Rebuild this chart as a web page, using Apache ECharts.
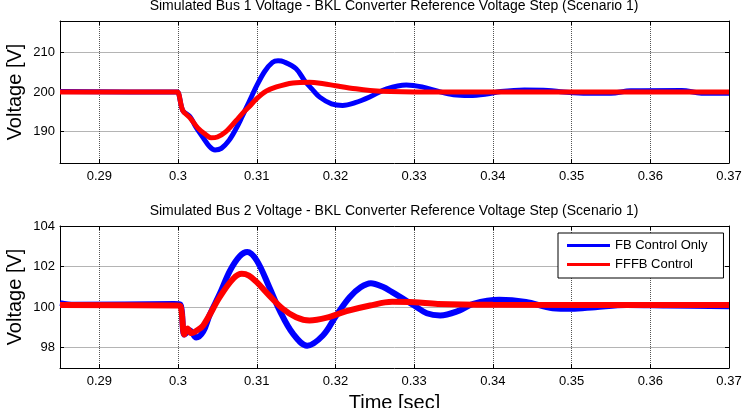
<!DOCTYPE html>
<html>
<head>
<meta charset="utf-8">
<script src="https://cdn.jsdelivr.net/npm/echarts@6/dist/echarts.min.js"></script>
<style>
html, body { margin: 0; padding: 0; background: #fff; }
#main { width: 744px; height: 408px; }
</style>
</head>
<body>
<div id="main"></div>
<script>
// tick positions
var timeTicks = [0.29, 0.3, 0.31, 0.32, 0.33, 0.34, 0.35, 0.36, 0.37];
var bus1Ticks = [190, 200, 210];
var bus2Ticks = [98, 100, 102, 104];

var seriesNames = ['FB Control Only', 'FFFB Control'];
var titles = [
    'Simulated Bus 1 Voltage - BKL Converter Reference Voltage Step (Scenario 1)',
    'Simulated Bus 2 Voltage - BKL Converter Reference Voltage Step (Scenario 1)'
];

// bus 1, feedback only (blue)
var bus1FBTime = [0.285, 0.2995, 0.2999, 0.3006, 0.3015, 0.3023, 0.3032, 0.3040, 0.3047, 0.3055,
    0.3065, 0.3074, 0.3081, 0.3090, 0.3100, 0.3110, 0.3120, 0.3127, 0.3135, 0.3150,
    0.3161, 0.3170, 0.3180, 0.3195, 0.3209, 0.3225, 0.3244, 0.3265, 0.3290, 0.3310,
    0.3330, 0.3350, 0.3370, 0.3390, 0.3410, 0.3440, 0.3470, 0.3490, 0.3520, 0.3550,
    0.3575, 0.3640, 0.3665, 0.3700];
var bus1FBVolt = [200.1, 200.0, 200.0, 195.3, 193.8, 191.0, 188.4, 186.2, 185.3, 185.7,
    187.8, 190.8, 193.6, 197.4, 201.6, 205.2, 207.5, 207.9, 207.6, 205.9,
    202.8, 200.8, 198.7, 197.0, 196.6, 197.3, 198.8, 200.8, 201.8, 201.3,
    200.2, 199.3, 199.1, 199.4, 200.1, 200.5, 200.4, 200.0, 199.7, 199.7,
    200.3, 200.4, 199.7, 199.7];

// bus 1, feedforward + feedback (red)
var bus1FFFBTime = [0.285, 0.2995, 0.2999, 0.3006, 0.3015, 0.3025, 0.3035, 0.3042, 0.3050, 0.3060,
    0.3074, 0.3081, 0.3090, 0.3100, 0.3112, 0.3125, 0.3146, 0.3167, 0.3185, 0.3200,
    0.3226, 0.3244, 0.3270, 0.3300, 0.3700];
var bus1FFFBVolt = [200.0, 200.0, 200.0, 195.3, 193.5, 190.9, 189.2, 188.4, 188.6, 189.8,
    192.8, 194.4, 196.2, 198.3, 200.2, 201.3, 202.3, 202.5, 202.1, 201.6,
    200.8, 200.4, 200.1, 200.0, 200.0];

// bus 2, feedback only (blue)
var bus2FBTime = [0.285, 0.2868, 0.2995, 0.3003, 0.3008, 0.3015, 0.3023, 0.3032, 0.3040, 0.3053,
    0.3066, 0.3078, 0.3088, 0.3100, 0.3116, 0.3129, 0.3146, 0.3164, 0.3184, 0.3201,
    0.3218, 0.3232, 0.3245, 0.3260, 0.3272, 0.3300, 0.3316, 0.3333, 0.3358, 0.3375,
    0.3408, 0.3442, 0.3476, 0.3500, 0.3530, 0.3570, 0.3620, 0.3700];
var bus2FBVolt = [100.2, 100.12, 100.15, 100.12, 98.65, 98.85, 98.5, 98.8, 99.6, 100.66,
    101.8, 102.5, 102.72, 102.3, 100.98, 99.84, 98.69, 98.1, 98.6, 99.59,
    100.49, 100.98, 101.18, 101.0, 100.74, 100.08, 99.7, 99.59, 99.84, 100.16,
    100.36, 100.25, 99.95, 99.92, 100.0, 100.1, 100.08, 100.05];

// bus 2, feedforward + feedback (red)
var bus2FFFBTime = [0.285, 0.2998, 0.3003, 0.3008, 0.3012, 0.3017, 0.3022, 0.3032, 0.3053, 0.3070,
    0.3081, 0.3090, 0.3100, 0.3116, 0.3133, 0.3150, 0.3167, 0.3189, 0.3214, 0.3244,
    0.3272, 0.3300, 0.3330, 0.3400, 0.3700];
var bus2FFFBVolt = [100.1, 100.08, 100.05, 98.65, 98.95, 98.72, 98.8, 99.1, 100.5, 101.4,
    101.64, 101.55, 101.23, 100.57, 99.92, 99.5, 99.34, 99.48, 99.8, 100.08,
    100.26, 100.24, 100.16, 100.12, 100.1];

var font = '"Liberation Sans", Arial, sans-serif';
var chart = echarts.init(document.getElementById('main'));

var pairs = (xs, ys) => xs.map((x, i) => [x, ys[i]]);

var xAxisFor = (grid, pos, labels, name) => ({
    type: 'value', gridIndex: grid, position: pos, min: 0.285, max: 0.37,
    name: name || '', nameLocation: 'middle', nameGap: 25,
    nameTextStyle: { fontSize: 20, fontFamily: font, color: '#000' },
    axisLine: { show: true, onZero: false, lineStyle: { color: '#000', width: 1 } },
    axisTick: { show: true, inside: true, length: 4, customValues: timeTicks, lineStyle: { color: '#000' } },
    axisLabel: { show: labels, customValues: timeTicks, margin: 7, fontSize: 13, color: '#000', fontFamily: font },
    splitLine: { show: labels, lineStyle: { type: 'dotted', color: '#555' } }
});

var yAxisFor = (grid, pos, min, max, ticks, labels) => ({
    type: 'value', gridIndex: grid, position: pos, min: min, max: max,
    axisLine: { show: true, onZero: false, lineStyle: { color: '#000', width: 1 } },
    axisTick: { show: true, inside: true, length: 4, customValues: ticks, lineStyle: { color: '#000' } },
    axisLabel: { show: labels, customValues: ticks, margin: 5, fontSize: 13, color: '#000', fontFamily: font },
    splitLine: { show: labels, lineStyle: { type: 'solid', color: '#b4b4b4' } }
});

var lineSeries = (name, xi, yi, data, color, width) => ({
    name: name, type: 'line', xAxisIndex: xi, yAxisIndex: yi,
    data: data, smooth: 0.35, symbol: 'none', showSymbol: false,
    lineStyle: { color: color, width: width }, itemStyle: { color: color },
    clip: true
});

// plot titles and the rotated y-axis names
var titleTexts = titles.map((t, i) => ({
    type: 'text', x: 394, y: i === 0 ? 6 : 211,
    style: { text: t, font: '14px ' + font, fill: '#000', align: 'center', verticalAlign: 'middle' }
}));
var yNames = [92, 297].map(cy => ({
    type: 'text', x: 15, y: cy, rotation: Math.PI / 2,
    style: { text: 'Voltage [V]', font: '20px ' + font, fill: '#000', align: 'center', verticalAlign: 'middle' }
}));

var option = {
    animation: false,
    backgroundColor: '#fff',
    grid: [
        { left: 60, top: 21, width: 669, height: 142, outerBoundsMode: 'none', containLabel: false },
        { left: 60, top: 226, width: 669, height: 142, outerBoundsMode: 'none', containLabel: false }
    ],
    xAxis: [
        xAxisFor(0, 'bottom', true),
        xAxisFor(0, 'top', false),
        xAxisFor(1, 'bottom', true, 'Time [sec]'),
        xAxisFor(1, 'top', false)
    ],
    yAxis: [
        yAxisFor(0, 'left', 182, 218, bus1Ticks, true),
        yAxisFor(0, 'right', 182, 218, bus1Ticks, false),
        yAxisFor(1, 'left', 97, 104, bus2Ticks, true),
        yAxisFor(1, 'right', 97, 104, bus2Ticks, false)
    ],
    legend: {
        data: seriesNames, orient: 'vertical', left: 558, top: 233,
        icon: 'rect', itemWidth: 43, itemHeight: 3, itemGap: 6,
        padding: [6, 16, 7, 9], borderColor: '#000', borderWidth: 1,
        backgroundColor: '#fff',
        textStyle: { fontSize: 13, fontFamily: font, color: '#000' }
    },
    graphic: titleTexts.concat(yNames),
    series: [
        lineSeries(seriesNames[0], 0, 0, pairs(bus1FBTime, bus1FBVolt), '#0000ff', 5),
        lineSeries(seriesNames[1], 0, 0, pairs(bus1FFFBTime, bus1FFFBVolt), '#ff0000', 5),
        lineSeries(seriesNames[0], 2, 2, pairs(bus2FBTime, bus2FBVolt), '#0000ff', 6),
        lineSeries(seriesNames[1], 2, 2, pairs(bus2FFFBTime, bus2FFFBVolt), '#ff0000', 6)
    ]
};
chart.setOption(option);
</script>
</body>
</html>
